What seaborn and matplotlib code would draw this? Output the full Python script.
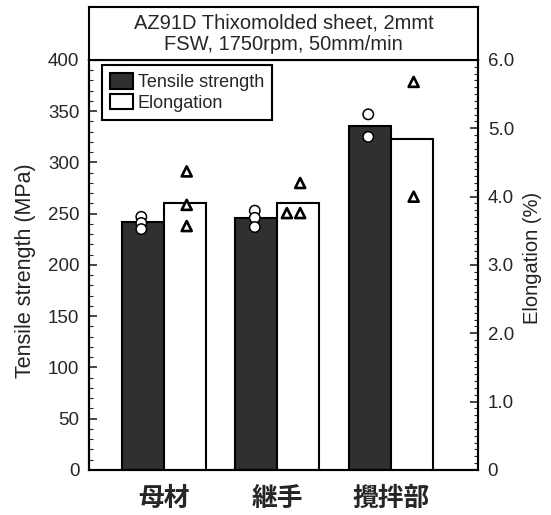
import matplotlib
matplotlib.use('Agg')
import matplotlib.pyplot as plt
import seaborn as sns
import pandas as pd
import numpy as np
from matplotlib.patches import Patch
from matplotlib.ticker import MultipleLocator

# ---------------- data ----------------
parts = ['母材', '継手', '攪拌部']
series = ['Tensile strength', 'Elongation']
tensile_mean = [242, 246, 336]
elong_mean = [3.90, 3.90, 4.84]
tensile_points = {'母材': [247, 241, 235], '継手': [253, 246, 237], '攪拌部': [347, 325]}
elong_points = {'母材': [4.37, 3.88, 3.57], '継手': [4.20, 3.76, 3.76], '攪拌部': [5.68, 4.00]}
tensile_ticks = [0, 50, 100, 150, 200, 250, 300, 350, 400]
elong_ticks = [0, 1, 2, 3, 4, 5, 6]
elong_tick_labels = ['0', '1.0', '2.0', '3.0', '4.0', '5.0', '6.0']
title_lines = ['AZ91D Thixomolded sheet, 2mmt', 'FSW, 1750rpm, 50mm/min']
left_label = 'Tensile strength (MPa)'
right_label = 'Elongation (%)'

# ---------------- tables ----------------
bars = pd.DataFrame({
    'part': parts * 2,
    'series': [series[0]] * 3 + [series[1]] * 3,
    'tensile': tensile_mean + [np.nan] * 3,
    'elong': [np.nan] * 3 + elong_mean,
})
pts_t = pd.DataFrame([(p, series[0], v) for p in parts for v in tensile_points[p]],
                     columns=['part', 'series', 'value'])
pts_e = pd.DataFrame([(p, series[1], v) for p in parts for v in elong_points[p]],
                     columns=['part', 'series', 'value'])

# ---------------- style ----------------
sns.set_style('ticks')
plt.rcParams['font.family'] = ['Liberation Sans', 'Noto Sans CJK JP', 'DejaVu Sans']
dark = '#303030'

fig = plt.figure(figsize=(5.51, 5.15), dpi=100)
ax = fig.add_axes([0.1615, 0.0874, 0.706, 0.7961])
ax2 = ax.twinx()

sns.barplot(data=bars, x='part', y='tensile', hue='series', hue_order=series, order=parts,
            palette={series[0]: dark, series[1]: 'white'}, width=0.74, edgecolor='black',
            linewidth=1.5, errorbar=None, legend=False, ax=ax)
sns.barplot(data=bars, x='part', y='elong', hue='series', hue_order=series, order=parts,
            palette={series[0]: dark, series[1]: 'white'}, width=0.74, edgecolor='black',
            linewidth=1.5, errorbar=None, legend=False, ax=ax2)

sns.stripplot(data=pts_t, x='part', y='value', hue='series', hue_order=series, order=parts,
              dodge=True, jitter=False, marker='o', size=7.5,
              palette={series[0]: 'white', series[1]: 'white'}, edgecolor='black',
              linewidth=1.1, legend=False, ax=ax, zorder=5)
sns.swarmplot(data=pts_e, x='part', y='value', hue='series', hue_order=series, order=parts,
              dodge=True, marker='^', size=7.2,
              palette={series[0]: 'white', series[1]: 'white'}, edgecolor='black',
              linewidth=1.9, legend=False, ax=ax2, zorder=5)

ax.set_xlim(-0.661, 2.767)
ax.set_ylim(0, 400)
ax2.set_ylim(0, 6)

ax.set_yticks(tensile_ticks)
ax.set_yticklabels([str(t) for t in tensile_ticks])
ax.yaxis.set_minor_locator(MultipleLocator(10))
ax2.set_yticks(elong_ticks)
ax2.set_yticklabels(elong_tick_labels)
ax2.yaxis.set_minor_locator(MultipleLocator(0.1))

ax.tick_params(axis='y', which='major', direction='in', length=6, width=1.2,
               labelsize=13.5, pad=7, right=False)
ax.tick_params(axis='y', which='minor', direction='in', length=3, width=0.8, right=False)
ax2.tick_params(axis='y', which='major', direction='in', length=6, width=1.2,
                labelsize=13.5, pad=7, left=False)
ax2.tick_params(axis='y', which='minor', direction='in', length=3, width=0.8, left=False)
ax.tick_params(axis='x', length=0, pad=11)
for lab in ax.get_xticklabels():
    lab.set_fontsize(18.5)
    lab.set_fontweight('bold')
    lab.set_family(['Noto Sans CJK JP'])

ax.set_xlabel('')
ax2.set_xlabel('')
ax.set_ylabel('')
ax2.set_ylabel('')
fig.text(26 / 551, 1 - 271 / 515, left_label, rotation=90, ha='center', va='center',
         fontsize=15.5, color='#222222')
fig.text(532 / 551, 1 - 258 / 515, right_label, rotation=90, ha='center', va='center',
         fontsize=14.5, color='#222222')

for a in (ax, ax2):
    for s in a.spines.values():
        s.set_linewidth(1.5)
        s.set_color('black')

handles = [Patch(facecolor=dark, edgecolor='black', linewidth=1.5),
           Patch(facecolor='white', edgecolor='black', linewidth=1.5)]
leg = ax2.legend(handles, series, loc='upper left', bbox_to_anchor=(0.033, 0.988),
                 borderaxespad=0, frameon=True, fancybox=False, edgecolor='black',
                 framealpha=1, fontsize=13, handlelength=1.25, handleheight=0.95,
                 handletextpad=0.3, borderpad=0.45, labelspacing=0.15)
leg.get_frame().set_linewidth(1.5)

# title box
tax = fig.add_axes([0.1615, 0.8835, 0.706, 0.1029])
tax.set_xticks([])
tax.set_yticks([])
for s in tax.spines.values():
    s.set_linewidth(1.5)
    s.set_color('black')
tax.text(0.5, 0.5, '\n'.join(title_lines), ha='center', va='center',
         fontsize=14.5, linespacing=1.2, transform=tax.transAxes)

fig.savefig('out.png', dpi=100)
